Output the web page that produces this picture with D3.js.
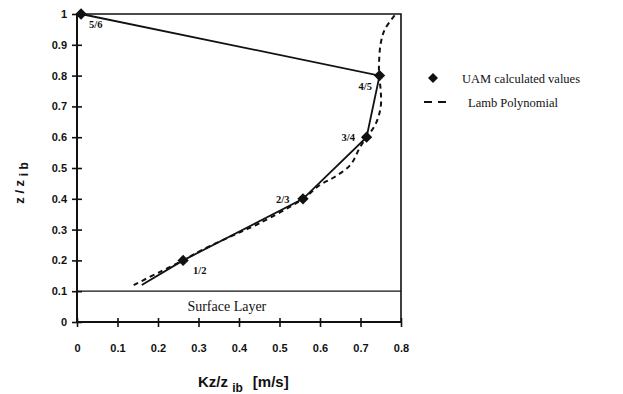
<!DOCTYPE html>
<html><head><meta charset="utf-8">
<script src="https://cdn.jsdelivr.net/npm/d3@7"></script>
<style>body{margin:0;background:#fff}svg{display:block}</style>
</head><body>
<svg id="c" width="623" height="394"></svg>
<script>
const xTicks = [0,0.1,0.2,0.3,0.4,0.5,0.6,0.7,0.8];
const yTicks = [0,0.1,0.2,0.3,0.4,0.5,0.6,0.7,0.8,0.9,1];
const uamX = [0.16, 0.262, 0.558, 0.715, 0.747, 0.01];
const uamY = [0.12, 0.2, 0.4, 0.6, 0.8, 1.0];
const markerIdx = [1,2,3,4,5];
const markerLabels = ["1/2","2/3","3/4","4/5","5/6"];
const lambX = [0.14,0.205,0.262,0.31,0.40,0.45,0.558,0.60,0.635,0.675,0.70,0.738,0.75,0.75,0.746,0.746,0.75,0.76,0.787];
const lambY = [0.12,0.163,0.2,0.235,0.29,0.32,0.4,0.445,0.47,0.51,0.57,0.645,0.70,0.75,0.80,0.85,0.905,0.95,1.0];

const svg = d3.select("#c");
const x = d3.scaleLinear().domain([0,0.8]).range([77,401]);
const y = d3.scaleLinear().domain([0,1]).range([322,14]);
const black = "#111";

// frame
svg.append("path").attr("d", `M${x(0)},${y(1)}H${x(0.8)}V${y(0)}`).attr("fill","none").attr("stroke",black).attr("stroke-width",1.6);
svg.append("line").attr("x1",x(0)).attr("x2",x(0.8)).attr("y1",y(0.1)).attr("y2",y(0.1)).attr("stroke",black).attr("stroke-width",1.3);

// axes
const yAxis = d3.axisLeft(y).tickValues(yTicks).tickSize(5).tickFormat(d=>d===0||d===1?String(d):d3.format(".1f")(d));
const gy = svg.append("g").attr("transform",`translate(${x(0)},0)`).call(yAxis);
const xAxis = d3.axisBottom(x).tickValues(xTicks).tickSize(5).tickFormat(d=>d===0?"0":d3.format(".1f")(d));
const gx = svg.append("g").attr("transform",`translate(0,${y(0)})`).call(xAxis);
[gy,gx].forEach(g=>{
  g.select(".domain").attr("stroke",black).attr("stroke-width",2);
  g.selectAll(".tick line").attr("stroke",black).attr("stroke-width",1.6);
  g.selectAll("text").attr("font-family","Liberation Sans, Arial, sans-serif").attr("font-size",11).attr("font-weight","bold").attr("fill",black);
});
gy.select(".domain").attr("d",`M0,${y(1)}V${y(0)}`);
gx.select(".domain").attr("d",`M${x(0)},0H${x(0.8)}`);
gy.selectAll(".tick line").attr("x1",-5).attr("x2",5);
gy.selectAll(".tick text").attr("x",-10);
gx.selectAll(".tick line").attr("y1",-4).attr("y2",5);
gx.selectAll(".tick text").attr("y",22);

// surface layer text
svg.append("text").attr("x",x(0.37)).attr("y",311).attr("text-anchor","middle")
  .attr("font-family","Liberation Serif, Times New Roman, serif").attr("font-size",14).attr("fill",black).text("Surface Layer");

// lines
const lineGen = d3.line().x(d=>x(d[0])).y(d=>y(d[1]));
svg.append("path").datum(uamX.map((v,i)=>[v,uamY[i]])).attr("d",lineGen)
  .attr("fill","none").attr("stroke",black).attr("stroke-width",1.8);
const lambGen = d3.line().x(d=>x(d[0])).y(d=>y(d[1])).curve(d3.curveCatmullRom);
svg.append("path").datum(lambX.map((v,i)=>[v,lambY[i]])).attr("d",lambGen)
  .attr("fill","none").attr("stroke",black).attr("stroke-width",2).attr("stroke-dasharray","5,4");

// markers
const sym = d3.symbol().type(d3.symbolSquare).size(64);
markerIdx.forEach(i=>{
  svg.append("path").attr("d",sym).attr("transform",`translate(${x(uamX[i])},${y(uamY[i])}) rotate(45)`).attr("fill",black);
});
const labOff = [[10,14],[-27,4],[-25,4],[-21,14],[8,14]];
markerIdx.forEach((i,k)=>{
  svg.append("text").attr("x",x(uamX[i])+labOff[k][0]).attr("y",y(uamY[i])+labOff[k][1])
    .attr("font-family","Liberation Serif, Times New Roman, serif").attr("font-size",10.5).attr("font-weight","bold").attr("fill",black).text(markerLabels[k]);
});

// legend
const symL = d3.symbol().type(d3.symbolSquare).size(50);
svg.append("path").attr("d",symL).attr("transform","translate(433,78) rotate(45)").attr("fill",black);
svg.append("text").attr("x",462).attr("y",83).attr("font-family","Liberation Serif, Times New Roman, serif").attr("font-size",12.5).attr("fill",black).text("UAM calculated values");
svg.append("line").attr("x1",424).attr("x2",449).attr("y1",102).attr("y2",102).attr("stroke",black).attr("stroke-width",2).attr("stroke-dasharray","8,6");
svg.append("text").attr("x",468).attr("y",107).attr("font-family","Liberation Serif, Times New Roman, serif").attr("font-size",12.5).attr("fill",black).text("Lamb Polynomial");

// axis titles
const xt = svg.append("text").attr("x",198).attr("y",387).attr("font-family","Liberation Sans, Arial, sans-serif").attr("font-weight","bold").attr("font-size",15).attr("fill",black);
xt.append("tspan").text("Kz/z ");
xt.append("tspan").attr("dy",5).attr("font-size",12).text("ib");
xt.append("tspan").attr("dy",-5).attr("dx",10).text("[m/s]");

const yt = svg.append("text").attr("transform","translate(24,183) rotate(-90)").attr("text-anchor","middle")
  .attr("font-family","Liberation Sans, Arial, sans-serif").attr("font-weight","bold").attr("font-size",13).attr("fill",black);
yt.append("tspan").text("z / z ");
yt.append("tspan").attr("dy",4).attr("font-size",12).text("i b");
</script>
</body></html>
